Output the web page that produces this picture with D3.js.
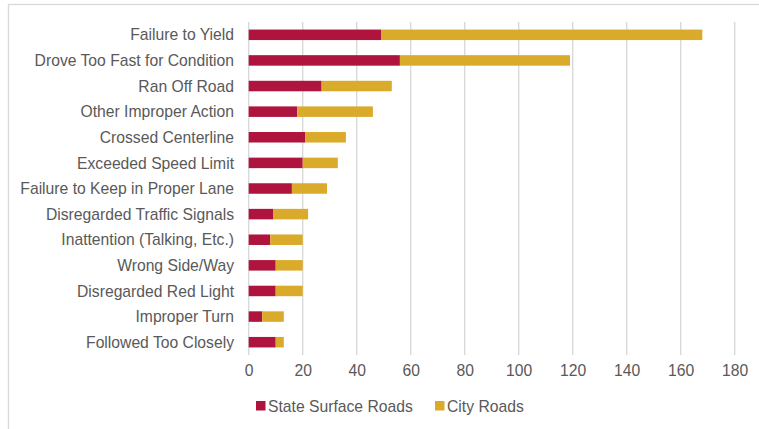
<!DOCTYPE html>
<html>
<head>
<meta charset="utf-8">
<script src="https://cdn.jsdelivr.net/npm/d3@7"></script>
<style>
  html, body { margin: 0; padding: 0; background: #fff; }
  svg { display: block; }
  text { font-family: "Liberation Sans", Arial, sans-serif; fill: #595959; }
</style>
</head>
<body>
<svg id="chart" width="759" height="429"></svg>
<script>
// Contributing factors, top to bottom
const categories = [
  "Failure to Yield",
  "Drove Too Fast for Condition",
  "Ran Off Road",
  "Other Improper Action",
  "Crossed Centerline",
  "Exceeded Speed Limit",
  "Failure to Keep in Proper Lane",
  "Disregarded Traffic Signals",
  "Inattention (Talking, Etc.)",
  "Wrong Side/Way",
  "Disregarded Red Light",
  "Improper Turn",
  "Followed Too Closely"
];
const stateSurfaceRoads = [49, 56, 27, 18, 21, 20, 16, 9, 8, 10, 10, 5, 10];
const cityRoads         = [119, 63, 26, 28, 15, 13, 13, 13, 12, 10, 10, 8, 3];
const seriesNames = ["State Surface Roads", "City Roads"];
const seriesColors = ["#AE143E", "#DAAA2A"];
const xTicks = [0, 20, 40, 60, 80, 100, 120, 140, 160, 180];

const svg = d3.select("#chart");
const fontSize = 15.7;

// outer frame
svg.append("rect")
  .attr("x", 8.5).attr("y", 4.5)
  .attr("width", 780).attr("height", 450)
  .attr("fill", "none").attr("stroke", "#d9d9d9").attr("stroke-width", 1.3);

const x = d3.scaleLinear().domain([0, 180]).range([248.7, 734.7]);
const y = d3.scaleBand().domain(categories).range([22, 355]).paddingInner(0.59).paddingOuter(0.295);

// vertical gridlines
svg.append("g").selectAll("line")
  .data(xTicks)
  .join("line")
  .attr("x1", d => x(d)).attr("x2", d => x(d))
  .attr("y1", 22).attr("y2", 355)
  .attr("stroke", "#d9d9d9").attr("stroke-width", 1.4);

// stacked bars
const rows = categories.map((c, i) => ({ cat: c, State: stateSurfaceRoads[i], City: cityRoads[i] }));
const stack = d3.stack().keys(["State", "City"])(rows);

svg.append("g").selectAll("g")
  .data(stack)
  .join("g")
  .attr("fill", (d, i) => seriesColors[i])
  .selectAll("rect")
  .data(d => d)
  .join("rect")
  .attr("x", d => x(d[0]))
  .attr("width", d => x(d[1]) - x(d[0]))
  .attr("y", d => y(d.data.cat))
  .attr("height", y.bandwidth());

// category labels
svg.append("g").selectAll("text")
  .data(categories)
  .join("text")
  .attr("x", 234)
  .attr("y", d => y(d) + y.bandwidth() / 2)
  .attr("dy", "0.36em")
  .attr("text-anchor", "end")
  .attr("font-size", fontSize)
  .text(d => d);

// x axis tick labels
const xAxis = d3.axisBottom(x).tickValues(xTicks).tickSize(0).tickPadding(0);
const gx = svg.append("g").attr("transform", "translate(0,365)").call(xAxis);
gx.select(".domain").remove();
gx.selectAll("text")
  .attr("font-size", fontSize)
  .attr("font-family", "Liberation Sans, Arial, sans-serif")
  .attr("fill", "#595959")
  .attr("dy", "0.71em");

// legend
const legend = svg.append("g");
const legendX = [256, 435];
seriesNames.forEach((name, i) => {
  legend.append("rect")
    .attr("x", legendX[i]).attr("y", 401)
    .attr("width", 9.5).attr("height", 9.5)
    .attr("fill", seriesColors[i]);
  legend.append("text")
    .attr("x", legendX[i] + 12).attr("y", 406)
    .attr("dy", "0.36em")
    .attr("font-size", fontSize)
    .text(name);
});
</script>
</body>
</html>
